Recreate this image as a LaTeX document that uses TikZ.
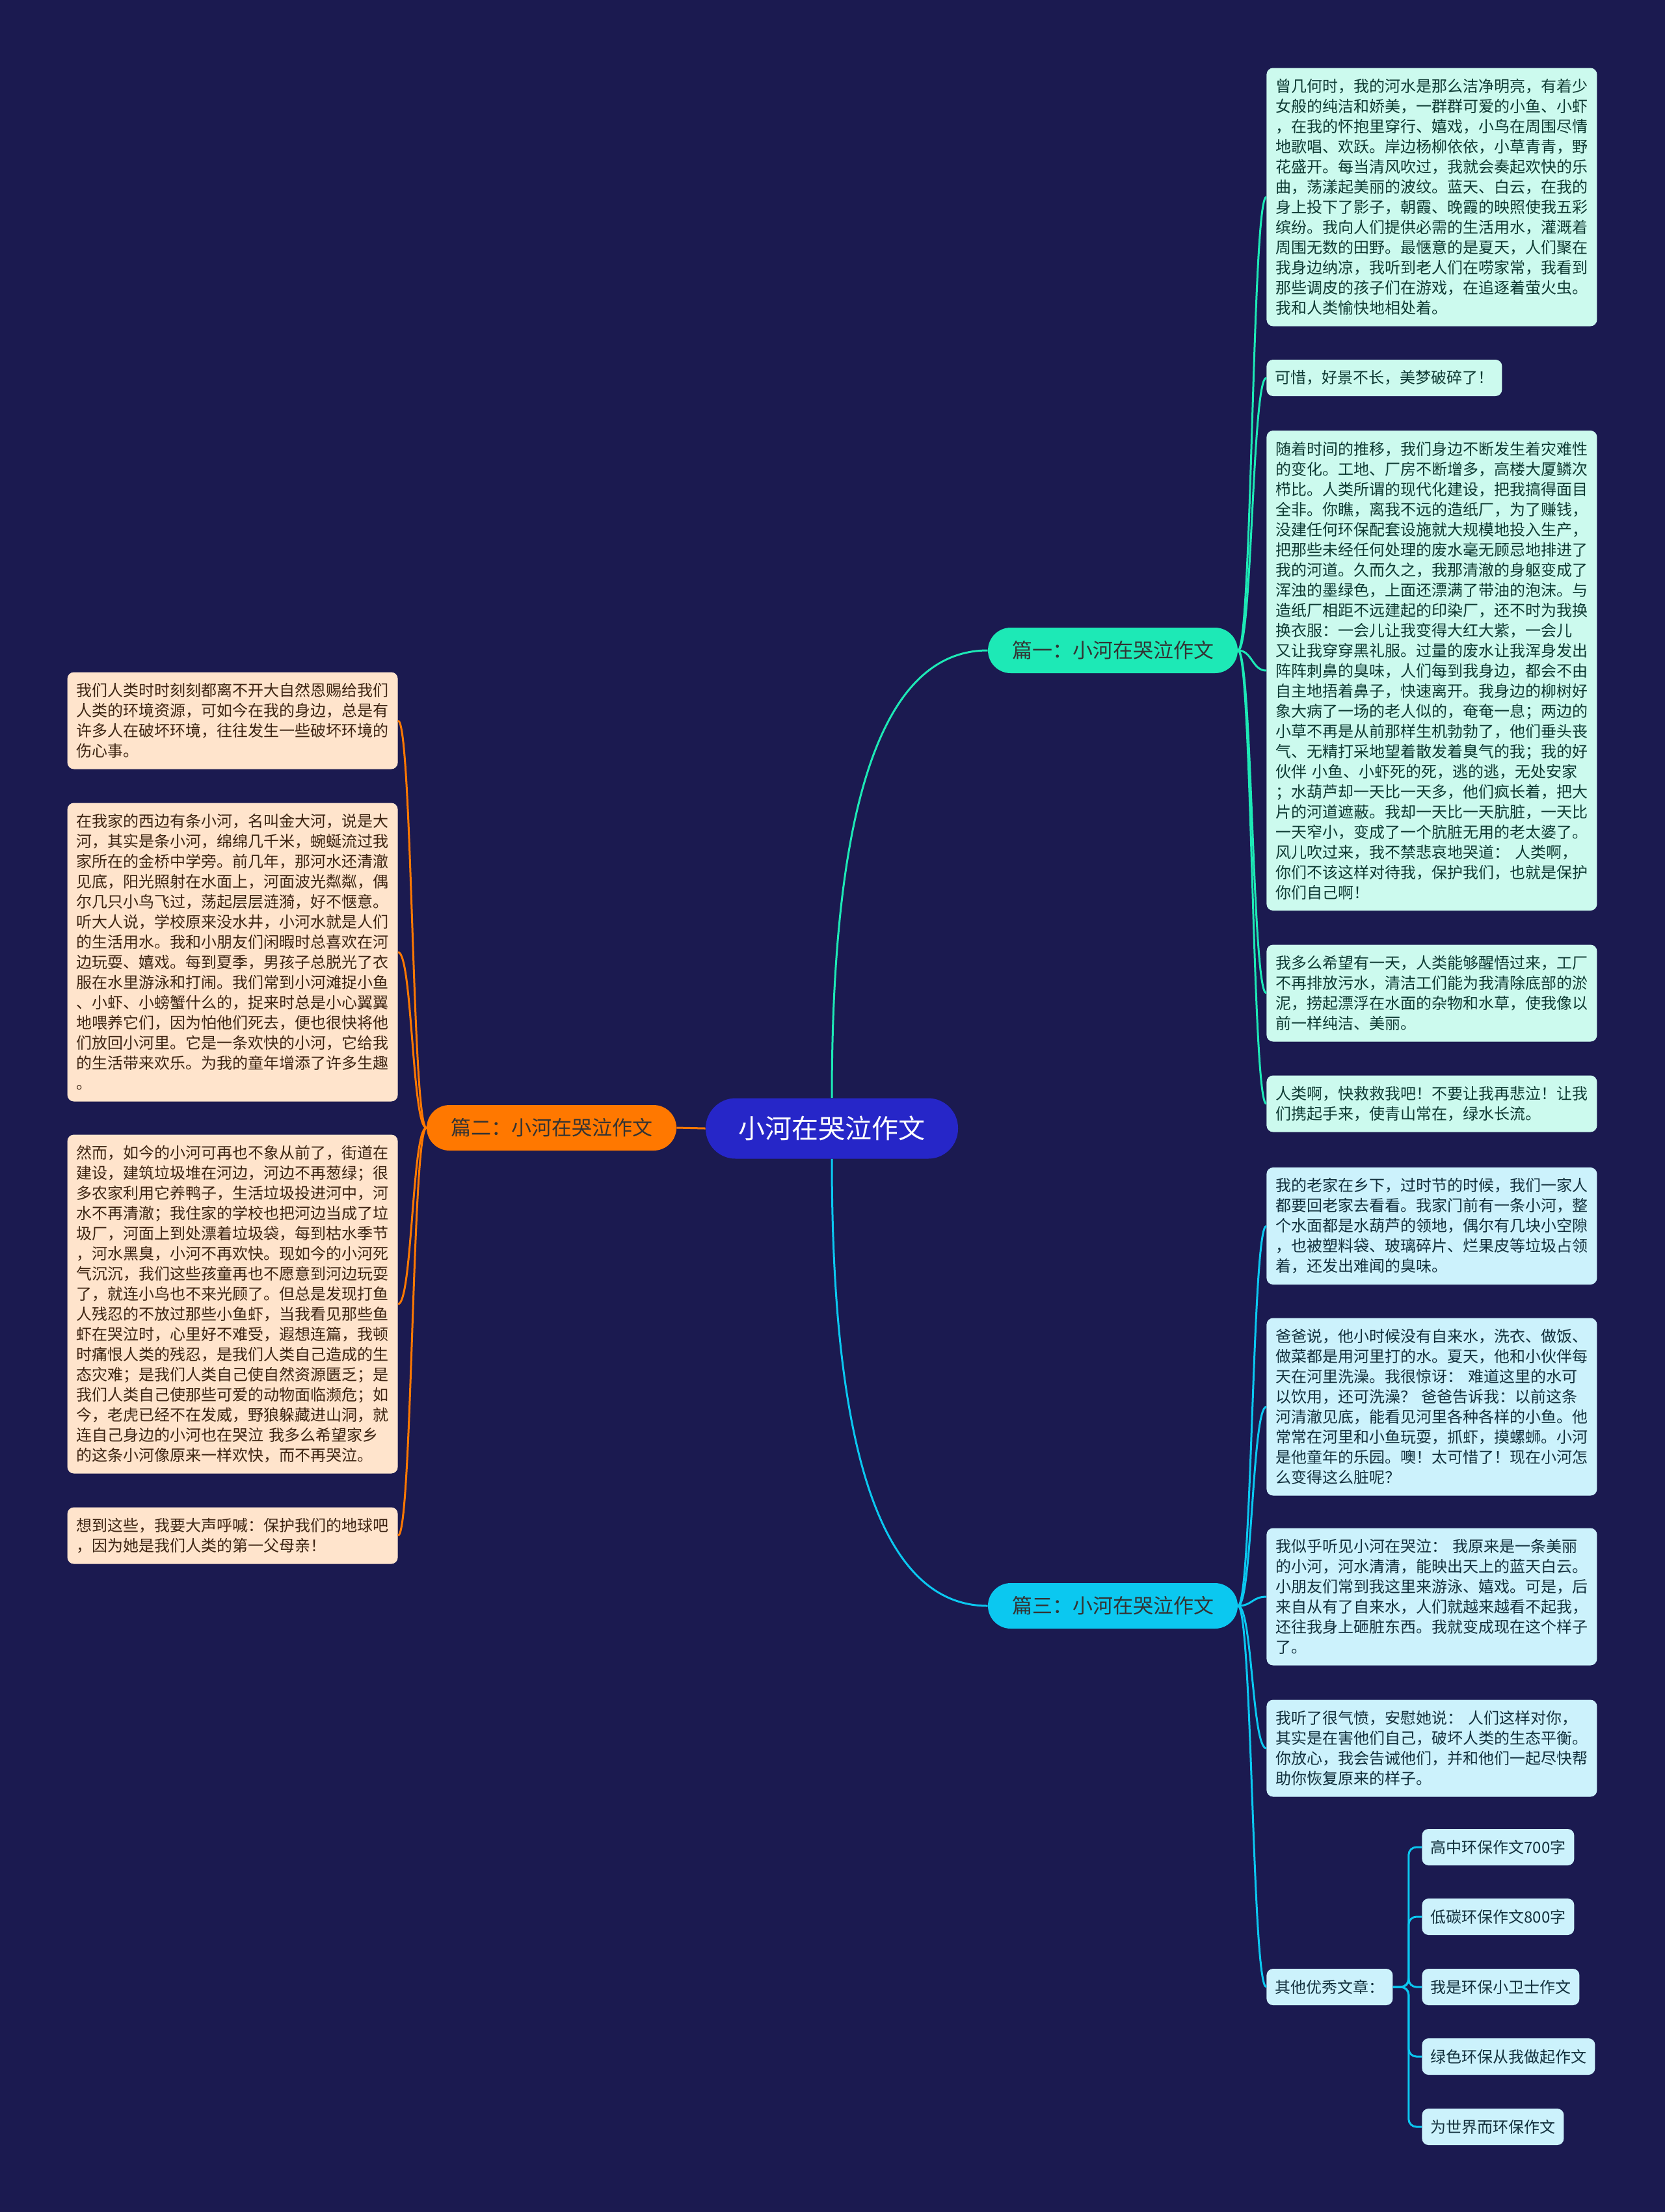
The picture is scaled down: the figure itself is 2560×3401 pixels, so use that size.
\documentclass[tikz,border=0pt]{standalone}
\usepackage{fontspec}
\setmainfont{Noto Sans CJK SC}
\definecolor{navybg}{HTML}{1B1A50}
\definecolor{rootblue}{HTML}{2626C8}
\definecolor{tealone}{HTML}{1DE9B6}
\definecolor{orangetwo}{HTML}{FF7800}
\definecolor{cyanthree}{HTML}{0BC8F0}
\definecolor{mintbox}{HTML}{CCFAEE}
\definecolor{peachbox}{HTML}{FFE4CC}
\definecolor{skybox}{HTML}{CCF2FC}
\definecolor{minttext}{HTML}{0E3A33}
\definecolor{peachtext}{HTML}{3D2412}
\definecolor{skytext}{HTML}{12303D}

\begin{document}
\begin{tikzpicture}[x=0.5pt,y=-0.5pt,
  root/.style={fill=rootblue,text=white,rounded corners=23pt,minimum width=194pt,minimum height=46.5pt,font=\fontsize{20.5}{24}\selectfont},
  branch/.style={fill=#1,text=black!80,rounded corners=17.5pt,minimum width=192pt,minimum height=35pt,font=\fontsize{15.5}{18}\selectfont},
  textbox/.style={fill=#1,rounded corners=5pt,inner xsep=6.5pt,inner ysep=2pt,align=left,font=\fontsize{12}{15.5}\selectfont},
  mint/.style={textbox=mintbox,text=minttext},
  peach/.style={textbox=peachbox,text=peachtext},
  sky/.style={textbox=skybox,text=skytext},
  wide/.style={text width=240pt,inner xsep=7pt},
  nrows/.style={minimum height={15.5pt*#1+12.5pt}},
  link/.style={draw=#1,line width=1.5pt},
]
% background, it also fixes the page size
\fill[navybg] (0,0) rectangle (2560,3401);

% the title in the middle and its three parts
\node[root] (root) at (1279,1735) {小河在哭泣作文};
\node[branch=tealone] (p1) at (1711,1000) {篇一：小河在哭泣作文};
\node[branch=orangetwo] (p2) at (848,1734) {篇二：小河在哭泣作文};
\node[branch=cyanthree] (p3) at (1711,2469) {篇三：小河在哭泣作文};

% part one, on the right
\node[mint,wide,nrows=12,anchor=west] (a1) at (1947,303) {曾几何时，我的河水是那么洁净明亮，有着少\\女般的纯洁和娇美，一群群可爱的小鱼、小虾\\，在我的怀抱里穿行、嬉戏，小鸟在周围尽情\\地歌唱、欢跃。岸边杨柳依依，小草青青，野\\花盛开。每当清风吹过，我就会奏起欢快的乐\\曲，荡漾起美丽的波纹。蓝天、白云，在我的\\身上投下了影子，朝霞、晚霞的映照使我五彩\\缤纷。我向人们提供必需的生活用水，灌溉着\\周围无数的田野。最惬意的是夏天，人们聚在\\我身边纳凉，我听到老人们在唠家常，我看到\\那些调皮的孩子们在游戏，在追逐着萤火虫。\\我和人类愉快地相处着。};
\node[mint,nrows=1,anchor=west] (a2) at (1947,581) {可惜，好景不长，美梦破碎了！};
\node[mint,wide,nrows=23,anchor=west] (a3) at (1947,1031) {随着时间的推移，我们身边不断发生着灾难性\\的变化。工地、厂房不断增多，高楼大厦鳞次\\栉比。人类所谓的现代化建设，把我搞得面目\\全非。你瞧，离我不远的造纸厂，为了赚钱，\\没建任何环保配套设施就大规模地投入生产，\\把那些未经任何处理的废水毫无顾忌地排进了\\我的河道。久而久之，我那清澈的身躯变成了\\浑浊的墨绿色，上面还漂满了带油的泡沫。与\\造纸厂相距不远建起的印染厂，还不时为我换\\换衣服：一会儿让我变得大红大紫，一会儿\\又让我穿穿黑礼服。过量的废水让我浑身发出\\阵阵刺鼻的臭味，人们每到我身边，都会不由\\自主地捂着鼻子，快速离开。我身边的柳树好\\象大病了一场的老人似的，奄奄一息；两边的\\小草不再是从前那样生机勃勃了，他们垂头丧\\气、无精打采地望着散发着臭气的我；我的好\\伙伴 小鱼、小虾死的死，逃的逃，无处安家\\；水葫芦却一天比一天多，他们疯长着，把大\\片的河道遮蔽。我却一天比一天肮脏，一天比\\一天窄小，变成了一个肮脏无用的老太婆了。\\风儿吹过来，我不禁悲哀地哭道： 人类啊，\\你们不该这样对待我，保护我们，也就是保护\\你们自己啊！};
\node[mint,wide,nrows=4,anchor=west] (a4) at (1947,1527) {我多么希望有一天，人类能够醒悟过来，工厂\\不再排放污水，清洁工们能为我清除底部的淤\\泥，捞起漂浮在水面的杂物和水草，使我像以\\前一样纯洁、美丽。};
\node[mint,wide,nrows=2,anchor=west] (a5) at (1947,1697) {人类啊，快救救我吧！不要让我再悲泣！让我\\们携起手来，使青山常在，绿水长流。};

% part two, on the left
\node[peach,wide,nrows=4,anchor=east] (l1) at (612,1108) {我们人类时时刻刻都离不开大自然恩赐给我们\\人类的环境资源，可如今在我的身边，总是有\\许多人在破坏环境，往往发生一些破坏环境的\\伤心事。};
\node[peach,wide,nrows=14,anchor=east] (l2) at (612,1464) {在我家的西边有条小河，名叫金大河，说是大\\河，其实是条小河，绵绵几千米，蜿蜒流过我\\家所在的金桥中学旁。前几年，那河水还清澈\\见底，阳光照射在水面上，河面波光粼粼，偶\\尔几只小鸟飞过，荡起层层涟漪，好不惬意。\\听大人说，学校原来没水井，小河水就是人们\\的生活用水。我和小朋友们闲暇时总喜欢在河\\边玩耍、嬉戏。每到夏季，男孩子总脱光了衣\\服在水里游泳和打闹。我们常到小河滩捉小鱼\\、小虾、小螃蟹什么的，捉来时总是小心翼翼\\地喂养它们，因为怕他们死去，便也很快将他\\们放回小河里。它是一条欢快的小河，它给我\\的生活带来欢乐。为我的童年增添了许多生趣\\。};
\node[peach,wide,nrows=16,anchor=east] (l3) at (612,2005) {然而，如今的小河可再也不象从前了，街道在\\建设，建筑垃圾堆在河边，河边不再葱绿；很\\多农家利用它养鸭子，生活垃圾投进河中，河\\水不再清澈；我住家的学校也把河边当成了垃\\圾厂，河面上到处漂着垃圾袋，每到枯水季节\\，河水黑臭，小河不再欢快。现如今的小河死\\气沉沉，我们这些孩童再也不愿意到河边玩耍\\了，就连小鸟也不来光顾了。但总是发现打鱼\\人残忍的不放过那些小鱼虾，当我看见那些鱼\\虾在哭泣时，心里好不难受，遐想连篇，我顿\\时痛恨人类的残忍，是我们人类自己造成的生\\态灾难；是我们人类自己使自然资源匮乏；是\\我们人类自己使那些可爱的动物面临濒危；如\\今，老虎已经不在发威，野狼躲藏进山洞，就\\连自己身边的小河也在哭泣 我多么希望家乡\\的这条小河像原来一样欢快，而不再哭泣。};
\node[peach,wide,nrows=2,anchor=east] (l4) at (612,2361) {想到这些，我要大声呼喊：保护我们的地球吧\\，因为她是我们人类的第一父母亲！};

% part three, on the right below
\node[sky,wide,nrows=5,anchor=west] (c1) at (1947,1885) {我的老家在乡下，过时节的时候，我们一家人\\都要回老家去看看。我家门前有一条小河，整\\个水面都是水葫芦的领地，偶尔有几块小空隙\\，也被塑料袋、玻璃碎片、烂果皮等垃圾占领\\着，还发出难闻的臭味。};
\node[sky,wide,nrows=8,anchor=west] (c2) at (1947,2163) {爸爸说，他小时候没有自来水，洗衣、做饭、\\做菜都是用河里打的水。夏天，他和小伙伴每\\天在河里洗澡。我很惊讶： 难道这里的水可\\以饮用，还可洗澡？ 爸爸告诉我：以前这条\\河清澈见底，能看见河里各种各样的小鱼。他\\常常在河里和小鱼玩耍，抓虾，摸螺蛳。小河\\是他童年的乐园。噢！太可惜了！现在小河怎\\么变得这么脏呢？};
\node[sky,wide,nrows=6,anchor=west] (c3) at (1947,2455) {我似乎听见小河在哭泣： 我原来是一条美丽\\的小河，河水清清，能映出天上的蓝天白云。\\小朋友们常到我这里来游泳、嬉戏。可是，后\\来自从有了自来水，人们就越来越看不起我，\\还往我身上砸脏东西。我就变成现在这个样子\\了。};
\node[sky,wide,nrows=4,anchor=west] (c4) at (1947,2688) {我听了很气愤，安慰她说： 人们这样对你，\\其实是在害他们自己，破坏人类的生态平衡。\\你放心，我会告诫他们，并和他们一起尽快帮\\助你恢复原来的样子。};
\node[sky,nrows=1,anchor=west] (c5) at (1947,3055) {其他优秀文章：};

% the other essays
\node[sky,nrows=1,anchor=west] (d1) at (2186,2840) {高中环保作文700字};
\node[sky,nrows=1,anchor=west] (d2) at (2186,2947) {低碳环保作文800字};
\node[sky,nrows=1,anchor=west] (d3) at (2186,3055) {我是环保小卫士作文};
\node[sky,nrows=1,anchor=west] (d4) at (2186,3162) {绿色环保从我做起作文};
\node[sky,nrows=1,anchor=west] (d5) at (2186,3270) {为世界而环保作文};

% trunk lines
\draw[link=tealone] (root.north) .. controls +(0,-384) and +(-184,0) .. (p1.west);
\draw[link=cyanthree] (root.south) .. controls +(0,384) and +(-184,0) .. (p3.west);
\draw[link=orangetwo] (root.west) -- (p2.east);

% leaf lines
\foreach \leaf in {a1,a2,a3,a4,a5}
  \draw[link=tealone] (p1.east) .. controls +(22,0) and +(-22,0) .. (\leaf.west);
\foreach \leaf in {l1,l2,l3,l4}
  \draw[link=orangetwo] (p2.west) .. controls +(-22,0) and +(22,0) .. (\leaf.east);
\foreach \leaf in {c1,c2,c3,c4,c5}
  \draw[link=cyanthree] (p3.east) .. controls +(22,0) and +(-22,0) .. (\leaf.west);
\foreach \leaf in {d1,d2,d3,d4,d5}
  \draw[link=cyanthree,rounded corners=6pt] (c5.east) -- ++(24,0) |- (\leaf.west);
\end{tikzpicture}
\end{document}
